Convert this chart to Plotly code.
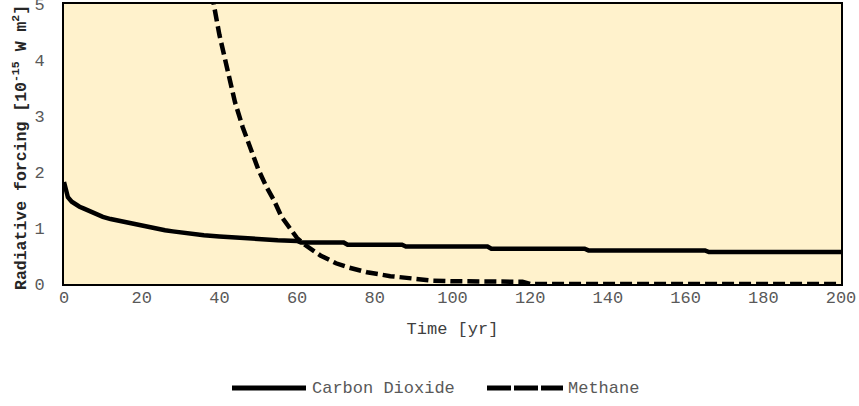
import plotly.graph_objects as go

# Radiative forcing after a pulse emission, CO2 vs CH4
co2_years = [0, 1, 2, 3, 4, 5, 6, 7, 8, 9, 10, 12, 14, 16, 18, 20, 22, 24, 26, 28,
             30, 33, 36, 40, 44, 48, 50, 55, 60, 61, 72, 73, 87, 88, 109, 110,
             134, 135, 165, 166, 200]
co2_forcing = [1.82, 1.55, 1.47, 1.42, 1.38, 1.35, 1.32, 1.28, 1.25, 1.23, 1.20, 1.16,
               1.13, 1.09, 1.06, 1.03, 1.01, 0.98, 0.96, 0.94, 0.92, 0.88, 0.87, 0.85,
               0.83, 0.80, 0.79, 0.78, 0.77, 0.74, 0.74, 0.70, 0.70, 0.67, 0.67, 0.63,
               0.63, 0.60, 0.60, 0.57, 0.57]

ch4_years = [36, 38, 40, 42, 44, 46, 48, 50, 52, 54, 56, 58, 60, 62, 64, 66, 68, 70,
             73, 78, 84, 90, 95, 100, 118, 120, 200]
ch4_forcing = [6.1, 5.2, 4.45, 3.85, 3.25, 2.8, 2.4, 2.05, 1.75, 1.5, 1.2, 1.0, 0.82,
               0.70, 0.60, 0.51, 0.44, 0.37, 0.30, 0.21, 0.14, 0.09, 0.06, 0.05, 0.04,
               0.0, 0.0]

x_ticks = [0, 20, 40, 60, 80, 100, 120, 140, 160, 180, 200]
y_ticks = [0, 1, 2, 3, 4, 5]

series_names = ["Carbon Dioxide", "Methane"]

FONT = "Liberation Mono, Courier New, monospace"
TICK_GREY = "#595959"

# plot-area geometry in pixels, used to place the legend and y title
PLOT_L, PLOT_W, PLOT_B, PLOT_H = 64, 777, 284, 280


def px_x(px):
    return (px - PLOT_L) / PLOT_W


def px_y(py):
    return (PLOT_B - py) / PLOT_H


fig = go.Figure()
fig.add_trace(go.Scatter(x=co2_years, y=co2_forcing, mode="lines", name=series_names[0],
                         line=dict(color="black", width=4.5), showlegend=False))
fig.add_trace(go.Scatter(x=ch4_years, y=ch4_forcing, mode="lines", name=series_names[1],
                         line=dict(color="black", width=4.5, dash="12px,5px"),
                         showlegend=False))

# Legend drawn below the plot with long key lines
legend_y = px_y(388)
keys = [
    (series_names[0], 232, 306, "solid", 310),
    (series_names[1], 487, 563, "24px,3px", 566),
]
for name, x0, x1, dash, tx in keys:
    fig.add_shape(type="line", xref="paper", yref="paper",
                  x0=px_x(x0), x1=px_x(x1), y0=legend_y, y1=legend_y,
                  line=dict(color="black", width=5, dash=dash))
    fig.add_annotation(xref="paper", yref="paper", x=px_x(tx), y=legend_y,
                       text=name, showarrow=False, xanchor="left", yanchor="middle",
                       font=dict(family=FONT, size=17, color=TICK_GREY))

# Rotated y-axis title
fig.add_annotation(xref="paper", yref="paper", x=px_x(20), y=px_y(148),
                   text="<b>Radiative forcing [10<sup>-15</sup> W m<sup>2</sup>]</b>",
                   textangle=-90, showarrow=False, xanchor="center", yanchor="middle",
                   font=dict(family=FONT, size=16.5, color="#262626"))

fig.update_layout(
    width=859, height=406,
    margin=dict(l=64, r=18, t=4, b=122, autoexpand=False),
    paper_bgcolor="white",
    plot_bgcolor="#FFF2CC",
    font=dict(family=FONT, size=17, color=TICK_GREY),
    showlegend=False,
)
fig.update_xaxes(
    range=[0, 200], tickvals=x_ticks, showgrid=False, zeroline=False,
    showline=True, linecolor="black", linewidth=2, mirror=True,
    ticks="", ticklabelstandoff=-3, automargin=False,
    tickfont=dict(family=FONT, size=17, color=TICK_GREY),
    title=dict(text="Time [yr]", standoff=15,
               font=dict(family=FONT, size=17, color="#404040")),
)
fig.update_yaxes(
    range=[0, 5], tickvals=y_ticks, showgrid=False, zeroline=False,
    showline=True, linecolor="black", linewidth=2, mirror=True,
    ticks="", ticklabelstandoff=14, ticklabeloverflow="allow", automargin=False,
    tickfont=dict(family=FONT, size=17, color=TICK_GREY),
)

fig.write_html("out.html")
